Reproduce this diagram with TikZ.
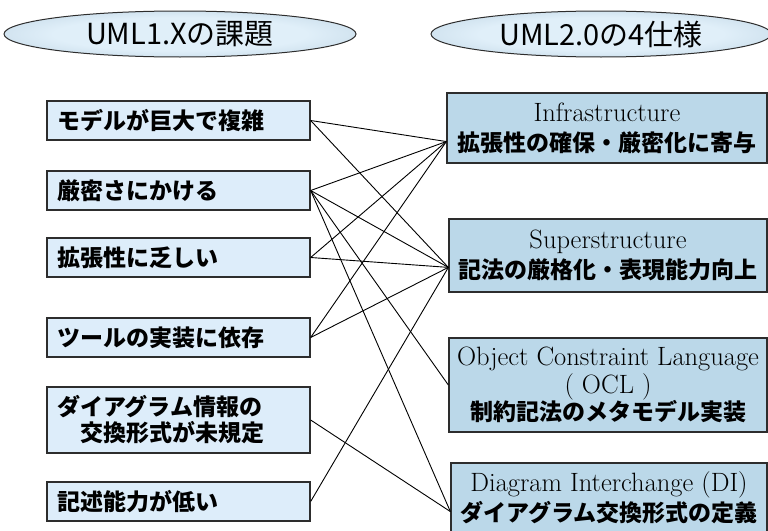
\documentclass[tikz,border=0pt]{standalone}
\usepackage{fontspec}
\usetikzlibrary{shapes.geometric,calc}
\newfontfamily\jp{Noto Sans CJK JP}

\definecolor{issuefill}{RGB}{221,237,250}
\definecolor{specfill}{RGB}{187,216,233}
\definecolor{boxedge}{RGB}{45,45,45}
\definecolor{titleedge}{RGB}{160,188,208}
\definecolor{titlemid}{RGB}{224,239,249}

% soft glow for the two heading ellipses
\pgfdeclareradialshading{titleglow}{\pgfpoint{0bp}{0bp}}{%
  color(0bp)=(titlemid); color(18bp)=(titlemid); color(50bp)=(titleedge)}

\newcommand{\latinline}[1]{{\rmfamily\fontsize{26.5}{30}\selectfont #1}}

\begin{document}
\begin{tikzpicture}[x=1pt,y=-1pt,
  issue/.style={draw=boxedge, line width=1.3pt, fill=issuefill,
    text width=243pt, inner xsep=10pt, inner ysep=0pt, align=left,
    minimum height=39pt, font=\jp\bfseries\fontsize{23}{26}\selectfont},
  spec/.style={draw=boxedge, line width=1.3pt, fill=specfill,
    inner sep=0pt, align=center, font=\fontsize{23}{30}\selectfont},
  heading/.style={ellipse, draw=boxedge, line width=1pt, shading=titleglow,
    inner sep=0pt, font=\jp\fontsize{29}{32}\selectfont},
  link/.style={line width=0.9pt, black}]

\useasboundingbox (0,0) rectangle (768,530);

% headings
\node[heading, minimum width=352pt, minimum height=46pt] (T1) at (180,34) {UML1.Xの課題};
\node[heading, minimum width=340pt, minimum height=46pt] (T2) at (601,34) {UML2.0の4仕様};

% problems of UML 1.x
\node[issue] (L1) at (178.5,120.5) {モデルが巨大で複雑};
\node[issue] (L2) at (178.5,190.5) {厳密さにかける};
\node[issue] (L3) at (178.5,257.5) {拡張性に乏しい};
\node[issue] (L4) at (178.5,337.5) {ツールの実装に依存};
\node[issue, minimum height=66pt] (L5) at (178.5,420) {ダイアグラム情報の\\\hspace*{1em}交換形式が未規定};
\node[issue] (L6) at (178.5,501.5) {記述能力が低い};

% the four UML 2.0 specifications
\node[spec, minimum width=320pt, minimum height=70pt] (R1) at (607,128)
  {\latinline{Infrastructure}\\
   {\jp\bfseries 拡張性の確保・厳密化に寄与}};
\node[spec, minimum width=318pt, minimum height=73pt] (R2) at (608,255.5)
  {\latinline{Superstructure}\\
   {\jp\bfseries 記法の厳格化・表現能力向上}};
\node[spec, minimum width=318pt, minimum height=94pt,
      font=\fontsize{23}{27.5}\selectfont] (R3) at (608,385)
  {{\rmfamily\fontsize{26.5}{27.5}\selectfont Object Constraint Language}\\
   {\rmfamily\fontsize{26.5}{27.5}\selectfont ( OCL )}\\
   {\jp\bfseries 制約記法のメタモデル実装}};
\node[spec, minimum width=316pt, minimum height=69pt] (R4) at (609,497.5)
  {\latinline{Diagram Interchange (DI)}\\
   {\jp\bfseries ダイアグラム交換形式の定義}};

% entry points on the left edges of the specification boxes
\coordinate (R1in) at ($(R1.south west)!0.31!(R1.north west)$);
\coordinate (R2in) at ($(R2.south west)!0.34!(R2.north west)$);
\coordinate (R3in) at (R3.west);
\coordinate (R4in) at ($(R4.south west)!0.30!(R4.north west)$);

% which specification addresses which problem
\draw[link] (L1.east) -- (R1in);
\draw[link] (L1.east) -- (R2in);
\draw[link] (L2.east) -- (R1in);
\draw[link] (L2.east) -- (R2in);
\draw[link] (L2.east) -- (R3in);
\draw[link] (L2.east) -- (R4in);
\draw[link] (L3.east) -- (R1in);
\draw[link] (L3.east) -- (R2in);
\draw[link] (L4.east) -- (R1in);
\draw[link] (L4.east) -- (R2in);
\draw[link] (L5.east) -- (R4in);
\draw[link] (L6.east) -- (R2in);
\end{tikzpicture}
\end{document}
